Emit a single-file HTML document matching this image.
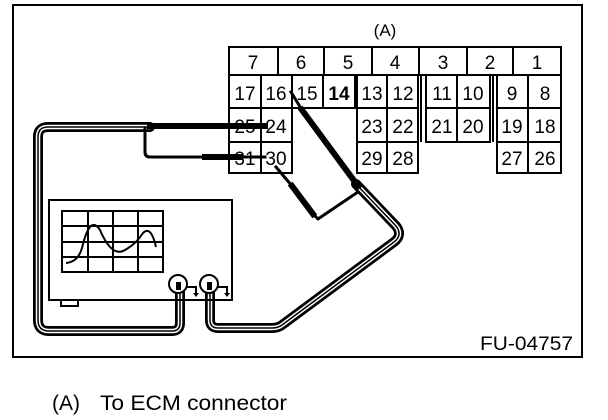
<!DOCTYPE html>
<html><head><style>
body{margin:0;background:#fff;width:608px;height:420px;overflow:hidden}
svg{display:block}
text{font-family:"Liberation Sans",Arial,sans-serif;fill:#000}
</style></head><body>
<svg width="608" height="420" viewBox="0 0 608 420" xmlns="http://www.w3.org/2000/svg">
<rect x="13" y="5" width="569" height="352" fill="none" stroke="#000" stroke-width="2"/>
<text x="385" y="36" font-size="17" text-anchor="middle">(A)</text>
<g fill="none" stroke="#000" stroke-width="2">
<rect x="229" y="47" width="332" height="28"/>
<line x1="278" y1="47" x2="278" y2="75"/><line x1="324" y1="47" x2="324" y2="75"/>
<line x1="372" y1="47" x2="372" y2="75"/><line x1="419" y1="47" x2="419" y2="75"/>
<line x1="467" y1="47" x2="467" y2="75"/><line x1="513" y1="47" x2="513" y2="75"/>
<rect x="229" y="75" width="126" height="33"/>
<line x1="261" y1="75" x2="261" y2="108"/><line x1="292" y1="75" x2="292" y2="108"/><line x1="323" y1="75" x2="323" y2="108"/>
<rect x="229" y="108" width="63" height="65"/><line x1="261" y1="108" x2="261" y2="173"/><line x1="229" y1="142" x2="292" y2="142"/>
<rect x="357" y="75" width="61" height="98"/><line x1="387" y1="75" x2="387" y2="173"/><line x1="357" y1="108" x2="418" y2="108"/><line x1="357" y1="142" x2="418" y2="142"/>
<line x1="421" y1="75" x2="421" y2="142"/>
<rect x="426" y="75" width="64" height="67"/><line x1="457" y1="75" x2="457" y2="142"/><line x1="426" y1="108" x2="490" y2="108"/>
<line x1="493" y1="75" x2="493" y2="142"/>
<rect x="497" y="75" width="64" height="98"/><line x1="528" y1="75" x2="528" y2="173"/><line x1="497" y1="108" x2="561" y2="108"/><line x1="497" y1="142" x2="561" y2="142"/>
</g>
<g font-size="19" text-anchor="middle">
<text x="253" y="69">7</text><text x="301" y="69">6</text><text x="348" y="69">5</text><text x="395" y="69">4</text><text x="443" y="69">3</text><text x="490" y="69">2</text><text x="537" y="69">1</text>
<text x="245" y="100">17</text><text x="276" y="100">16</text><text x="307" y="100">15</text><text x="339" y="100" font-weight="bold">14</text>
<text x="372" y="100">13</text><text x="403" y="100">12</text><text x="442" y="100">11</text><text x="473" y="100">10</text><text x="512" y="100">9</text><text x="545" y="100">8</text>
<text x="245" y="133">25</text><text x="276" y="133">24</text><text x="372" y="133">23</text><text x="403" y="133">22</text><text x="442" y="133">21</text><text x="473" y="133">20</text><text x="512" y="133">19</text><text x="545" y="133">18</text>
<text x="245" y="165">31</text><text x="276" y="165">30</text><text x="372" y="165">29</text><text x="403" y="165">28</text><text x="512" y="165">27</text><text x="545" y="165">26</text>
</g>
<g fill="none" stroke-linejoin="round" stroke-linecap="round">
<path d="M150 127 L48 127 Q38 127 38 137 L38 320 Q38 331 49 331 L172 331 Q180 331 180 323 L180 285" stroke="#000" stroke-width="10"/>
<path d="M150 127 L48 127 Q38 127 38 137 L38 320 Q38 331 49 331 L172 331 Q180 331 180 323 L180 285" stroke="#fff" stroke-width="4.5"/>
<path d="M150 127 L48 127 Q38 127 38 137 L38 320 Q38 331 49 331 L172 331 Q180 331 180 323 L180 285" stroke="#000" stroke-width="1.5"/>
<path d="M356 184 L396 226 Q403 235 394 242 L282 325 Q278 328 272 328 L218 328 Q210 328 210 320 L210 285" stroke="#000" stroke-width="10"/>
<path d="M356 184 L396 226 Q403 235 394 242 L282 325 Q278 328 272 328 L218 328 Q210 328 210 320 L210 285" stroke="#fff" stroke-width="4.5"/>
<path d="M356 184 L396 226 Q403 235 394 242 L282 325 Q278 328 272 328 L218 328 Q210 328 210 320 L210 285" stroke="#000" stroke-width="1.5"/>
</g>
<g stroke="#000" fill="none" stroke-linecap="square">
<line x1="150" y1="126" x2="265" y2="126" stroke-width="6"/>
<path d="M145 128 L145 152 Q145 157 150 157 L205 157" stroke-width="3"/>
<line x1="205" y1="157" x2="240" y2="157" stroke-width="6"/>
<line x1="240" y1="157" x2="265" y2="157" stroke-width="3"/>
<line x1="291" y1="92" x2="302" y2="110" stroke-width="3"/>
<line x1="302" y1="110" x2="358" y2="186" stroke-width="6"/>
<line x1="276" y1="167" x2="292" y2="186" stroke-width="3"/>
<line x1="292" y1="186" x2="313" y2="214" stroke-width="6"/>
<path d="M313 214 L318 219 L358 192" stroke-width="3"/>
</g>
<g fill="none" stroke="#000" stroke-width="2">
<rect x="49" y="200" width="183" height="100"/>
<rect x="62" y="211" width="101" height="61"/>
<line x1="88" y1="211" x2="88" y2="272"/><line x1="113" y1="211" x2="113" y2="272"/><line x1="138" y1="211" x2="138" y2="272"/>
<line x1="62" y1="226" x2="163" y2="226"/><line x1="62" y1="242" x2="163" y2="242"/><line x1="62" y1="257" x2="163" y2="257"/>
<path d="M66 263 Q78 262 82 248 Q90 214 100 230 Q112 258 125 250 Q136 244 143 233 Q151 225 156 247"/>
<rect x="61" y="300" width="17" height="6"/>
<circle cx="178" cy="284" r="9" fill="#fff"/><circle cx="209" cy="284" r="9" fill="#fff"/>
<path d="M187 287 L196 287 L196 294"/><path d="M218 287 L227 287 L227 294"/>
</g>
<rect x="176" y="282" width="5" height="8" fill="#000"/><rect x="207" y="282" width="5" height="8" fill="#000"/>
<path d="M193 293 L199 293 L196 297Z M224 293 L230 293 L227 297Z" fill="#000"/>
<text x="480" y="350" font-size="19" textLength="93" lengthAdjust="spacingAndGlyphs">FU-04757</text>
<text x="52" y="410" font-size="21" textLength="28" lengthAdjust="spacingAndGlyphs">(A)</text>
<text x="100" y="410" font-size="21" textLength="187" lengthAdjust="spacingAndGlyphs">To ECM connector</text>
</svg>
</body></html>
